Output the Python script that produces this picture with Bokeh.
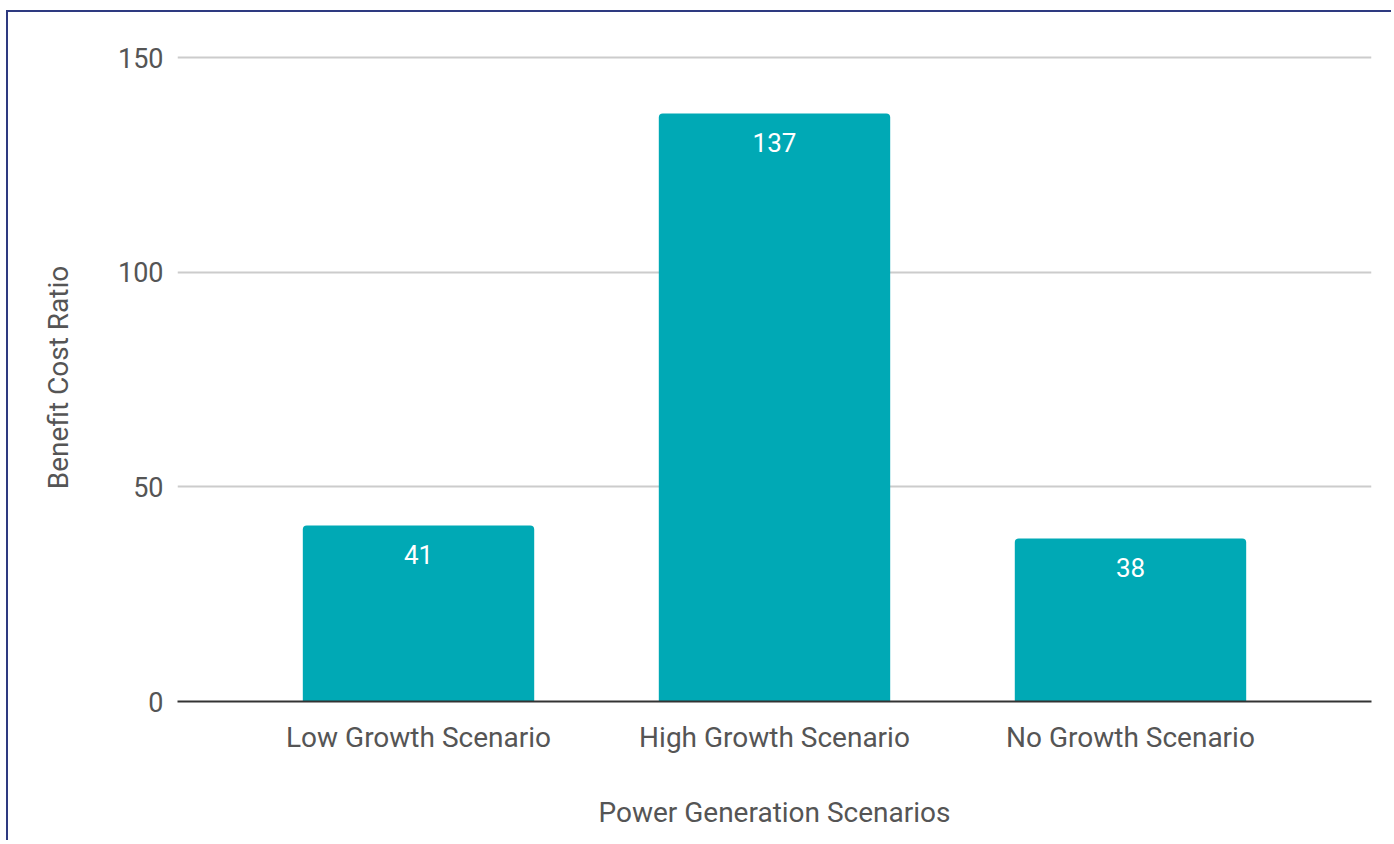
from bokeh.plotting import figure
from bokeh.models import ColumnDataSource, FactorRange, Range1d, FixedTicker
from bokeh.core.properties import value
from bokeh.embed import file_html
from bokeh.resources import INLINE

categories = ["Low Growth Scenario", "High Growth Scenario", "No Growth Scenario"]
ratios = [41, 137, 38]
y_ticks = [0, 50, 100, 150]

FONT = "Roboto"
TEXT_COLOR = "#555555"
BAR_COLOR = "#00a9b5"

src = ColumnDataSource(dict(cat=categories, val=ratios, lab=[str(v) for v in ratios]))

p = figure(
    width=1385, height=830,
    x_range=FactorRange(factors=categories, range_padding=0.118),
    y_range=Range1d(0, 151),
    output_backend="svg", toolbar_location=None,
    min_border_left=169, min_border_right=22, min_border_top=41, min_border_bottom=141,
)
p.styles = {"border-top": "2px solid #2e3a80", "border-left": "2px solid #2e3a80",
            "margin-top": "10px", "margin-left": "6px"}

p.vbar(x="cat", top="val", width=0.65, source=src, fill_color=BAR_COLOR,
       line_color=None, border_radius=(4, 4, 0, 0))
p.text(x="cat", y="val", text="lab", source=src, y_offset=29,
       text_align="center", text_baseline="middle", text_color="white",
       text_font=value(FONT), text_font_size="26px")

p.outline_line_color = None
p.background_fill_color = "white"
p.border_fill_color = "white"

p.xgrid.grid_line_color = None
p.ygrid.grid_line_color = "#cccccc"
p.ygrid.grid_line_width = 2
p.yaxis.ticker = FixedTicker(ticks=y_ticks)

p.yaxis.axis_line_color = None
p.yaxis.major_tick_line_color = None
p.yaxis.minor_tick_line_color = None
p.yaxis.major_tick_out = 0
p.yaxis.major_label_standoff = 14
p.yaxis.major_label_text_font = FONT
p.yaxis.major_label_text_font_size = "27px"
p.yaxis.major_label_text_color = TEXT_COLOR
p.yaxis.axis_label = "Benefit Cost Ratio"
p.yaxis.axis_label_text_font = FONT
p.yaxis.axis_label_text_font_style = "normal"
p.yaxis.axis_label_text_font_size = "28px"
p.yaxis.axis_label_text_color = TEXT_COLOR
p.yaxis.axis_label_standoff = 40

p.xaxis.axis_line_color = "#333333"
p.xaxis.axis_line_width = 2
p.xaxis.major_tick_line_color = None
p.xaxis.minor_tick_line_color = None
p.xaxis.major_tick_out = 0
p.xaxis.major_label_standoff = 19
p.xaxis.major_label_text_font = FONT
p.xaxis.major_label_text_font_size = "28px"
p.xaxis.major_label_text_color = TEXT_COLOR
p.xaxis.axis_label = "Power Generation Scenarios"
p.xaxis.axis_label_text_font = FONT
p.xaxis.axis_label_text_font_style = "normal"
p.xaxis.axis_label_text_font_size = "28px"
p.xaxis.axis_label_text_color = TEXT_COLOR
p.xaxis.axis_label_standoff = 39

open("out.html", "w").write(file_html(p, INLINE))
